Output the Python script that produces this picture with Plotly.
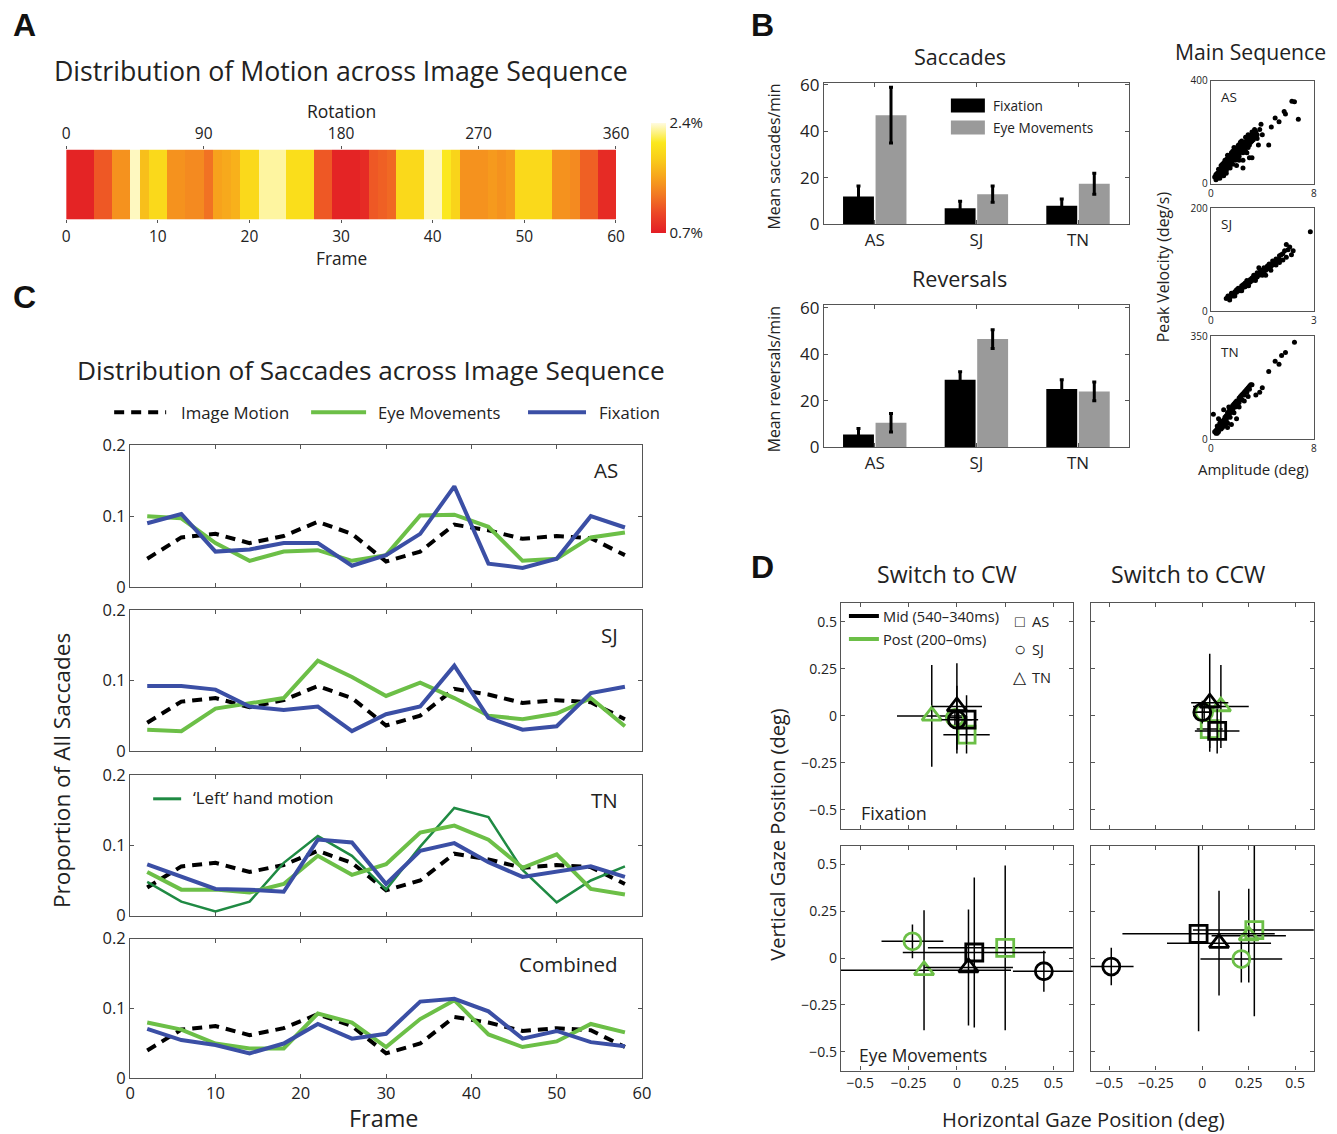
import plotly.graph_objects as go

FONT = "Open Sans"
# measured relation between page pixels and photographed pixels: img = OFF + K * page
SXK, SXO = 0.987, 3.8
SYK, SYO = 0.981, 12.3
FW, FH = 1351, 1144        # figure size in page pixels (body margin removed)

# ---------------- Panel A: motion distribution ----------------
frames = list(range(60))
motion_pct = [0.75, 0.75, 0.75, 1.1, 1.1, 1.45, 1.45, 2.35, 1.75, 1.95,
              1.95, 1.45, 1.45, 1.4, 1.4, 1.25, 1.55, 1.6, 1.65, 1.95,
              1.95, 2.3, 2.3, 2.3, 2.0, 2.0, 2.0, 1.1, 1.1, 0.75,
              0.75, 0.75, 0.8, 1.1, 1.15, 1.2, 1.95, 1.95, 1.95, 2.35,
              2.35, 2.1, 1.9, 1.45, 1.45, 1.45, 1.5, 1.45, 1.5, 1.95,
              1.95, 1.95, 1.95, 1.45, 1.45, 1.4, 1.15, 1.15, 0.8, 0.8]
frame_ticks = [0, 10, 20, 30, 40, 50, 60]
rotation_ticks = [0, 90, 180, 270, 360]

# ---------------- Panel B: bars ----------------
subjects = ["AS", "SJ", "TN"]
sacc_fix = [12, 7, 8]
sacc_fix_err = [4.5, 3, 3]
sacc_eye = [47, 13, 17.5]
sacc_eye_err = [12, 3.5, 4.5]
rev_fix = [5.5, 29, 25]
rev_fix_err = [2.5, 3.5, 4]
rev_eye = [10.5, 46.5, 24]
rev_eye_err = [4, 4, 4]
bar_ticks = [0, 20, 40, 60]

# ---------------- Panel B: main sequence ----------------
ms_as_amp = [0.3, 0.4, 0.5, 0.5, 0.6, 0.7, 0.7, 0.8, 0.9, 1.0, 1.0, 1.1, 1.2, 1.2, 1.3, 1.4, 1.5, 1.5,
             1.6, 1.7, 1.8, 1.8, 1.9, 2.0, 2.0, 2.1, 2.2, 2.3, 2.4, 2.5, 2.5, 2.6, 2.7, 2.8, 2.9, 3.0,
             3.1, 3.2, 3.3, 3.5, 3.6, 3.8, 4.0, 1.0, 1.5, 2.0, 2.5, 3.0, 0.8, 1.3, 1.8, 2.3, 2.8, 3.4,
             3.7, 4.5, 4.7, 5.0, 5.3, 5.7, 5.8, 6.3, 6.5, 6.8, 3.9, 1.2, 2.2, 0.6, 1.6, 2.1, 2.6, 1.1,
             1.4, 1.9, 2.4, 2.9, 3.3, 0.9, 1.7, 2.7, 3.2, 0.4, 1.25, 2.15,
             0.5, 0.6, 0.8, 0.9, 1.0, 1.1, 1.3, 1.4, 1.6, 1.7, 1.9, 2.0, 2.2, 2.3, 2.4, 2.6, 2.7, 2.9,
             3.0, 3.1, 3.3, 3.4, 3.6, 1.5, 1.8, 2.1, 2.5, 2.8, 3.2, 3.5, 0.7, 1.2, 1.7, 2.2, 2.7, 3.0,
             0.4, 0.9, 1.4, 1.9, 2.5, 3.2]
ms_as_vel = [25, 15, 40, 20, 35, 50, 30, 45, 60, 55, 80, 65, 75, 50, 90, 70, 95, 110,
             85, 100, 120, 95, 110, 130, 100, 125, 115, 140, 130, 150, 120, 160, 140, 170, 150, 180,
             160, 190, 170, 200, 175, 210, 190, 30, 60, 70, 90, 100, 70, 110, 140, 160, 120, 210,
             150, 150, 220, 255, 240, 280, 270, 320, 318, 250, 230, 40, 90, 55, 120, 145, 135, 90,
             100, 135, 165, 190, 185, 75, 125, 180, 200, 35, 95, 150,
             30, 25, 40, 50, 45, 60, 70, 85, 80, 105, 95, 115, 105, 125, 145, 135, 155, 140,
             160, 170, 185, 180, 190, 80, 105, 110, 135, 145, 165, 180, 20, 55, 75, 130, 125, 150,
             30, 35, 65, 90, 60, 100]
ms_sj_amp = [0.45, 0.5, 0.55, 0.6, 0.65, 0.7, 0.75, 0.8, 0.85, 0.9, 0.95, 1.0, 1.0, 1.05, 1.1, 1.15,
             1.2, 1.25, 1.3, 1.35, 1.4, 1.45, 1.5, 1.55, 1.6, 1.65, 1.7, 1.75, 1.8, 1.85, 1.9, 1.95,
             2.0, 2.05, 2.1, 2.15, 2.2, 2.25, 2.3, 2.2, 2.35, 2.0, 1.6, 1.3, 0.9, 2.9, 2.1, 1.75,
             1.4, 2.4, 0.7, 1.1, 1.5, 1.9,
             0.5, 0.6, 0.7, 0.8, 0.9, 1.0, 1.1, 1.2, 1.3, 1.4, 1.5, 1.6, 1.7, 1.8, 1.9, 2.0,
             0.55, 0.65, 0.75, 0.85, 0.95, 1.05, 1.15, 1.25, 1.35, 1.45, 1.55, 1.65, 1.75, 1.85]
ms_sj_vel = [25, 30, 22, 35, 30, 38, 42, 45, 40, 50, 52, 55, 48, 60, 58, 62,
             65, 70, 68, 75, 72, 80, 78, 85, 82, 88, 92, 90, 98, 95, 102, 100,
             108, 110, 112, 118, 130, 120, 125, 105, 110, 95, 70, 60, 40, 155, 100, 80,
             85, 118, 30, 50, 70, 90,
             28, 30, 35, 40, 45, 52, 55, 60, 65, 70, 75, 80, 85, 90, 95, 100,
             27, 33, 37, 44, 47, 53, 57, 63, 67, 73, 77, 83, 87, 92]
ms_tn_amp = [0.3, 0.4, 0.5, 0.5, 0.6, 0.7, 0.7, 0.8, 0.9, 1.0, 1.0, 1.1, 1.2, 1.2, 1.3, 1.4, 1.5, 1.5,
             1.6, 1.7, 1.8, 1.9, 2.0, 2.1, 2.2, 2.3, 2.4, 2.5, 2.6, 2.7, 2.8, 2.9, 3.0, 3.1, 3.2, 1.8,
             2.0, 1.6, 2.6, 2.9, 3.5, 3.8, 4.0, 4.5, 5.0, 5.3, 5.5, 5.8, 6.5, 0.2, 1.0, 1.4, 2.2, 0.6,
             1.3, 0.8, 1.1, 1.7, 2.4, 0.5, 0.9,
             0.4, 0.5, 0.6, 0.7, 0.8, 0.9, 1.0, 1.1, 1.2, 1.3, 1.4, 1.5, 1.6, 1.7, 1.8, 1.9, 2.0, 2.2,
             2.4, 2.6, 2.8, 3.0, 0.5, 0.6, 0.7, 0.9, 1.1, 1.3]
ms_tn_vel = [25, 20, 30, 45, 35, 40, 55, 50, 60, 65, 45, 75, 80, 60, 90, 85, 100, 75,
             105, 115, 110, 125, 130, 120, 140, 145, 150, 155, 160, 165, 170, 175, 180, 185, 185, 90,
             70, 50, 130, 145, 150, 160, 175, 230, 265, 255, 285, 295, 330, 85, 100, 110, 110, 70,
             40, 35, 55, 95, 135, 20, 45,
             30, 25, 45, 35, 60, 50, 55, 65, 70, 75, 95, 90, 95, 100, 120, 110, 115, 125,
             135, 150, 160, 170, 35, 25, 45, 40, 50, 55]

# ---------------- Panel C: saccade distribution ----------------
c_frames = [2, 6, 10, 14, 18, 22, 26, 30, 34, 38, 42, 46, 50, 54, 58]
image_motion = [0.04, 0.07, 0.075, 0.062, 0.072, 0.092, 0.075, 0.036, 0.05, 0.088, 0.08, 0.068, 0.072, 0.069, 0.045]
as_eye = [0.1, 0.097, 0.062, 0.037, 0.05, 0.052, 0.037, 0.045, 0.101, 0.102, 0.085, 0.037, 0.04, 0.07, 0.077]
as_fix = [0.09, 0.103, 0.05, 0.053, 0.062, 0.062, 0.03, 0.045, 0.075, 0.142, 0.033, 0.027, 0.04, 0.1, 0.084]
sj_eye = [0.03, 0.028, 0.06, 0.068, 0.075, 0.128, 0.105, 0.078, 0.097, 0.075, 0.05, 0.045, 0.053, 0.075, 0.035]
sj_fix = [0.092, 0.092, 0.087, 0.063, 0.058, 0.063, 0.028, 0.052, 0.063, 0.121, 0.047, 0.03, 0.035, 0.082, 0.091]
tn_eye = [0.062, 0.037, 0.037, 0.033, 0.045, 0.085, 0.058, 0.073, 0.118, 0.128, 0.108, 0.068, 0.087, 0.038, 0.03]
tn_fix = [0.073, 0.055, 0.038, 0.037, 0.034, 0.108, 0.104, 0.045, 0.092, 0.103, 0.076, 0.055, 0.063, 0.07, 0.055]
tn_left = [0.048, 0.02, 0.006, 0.02, 0.075, 0.113, 0.085, 0.037, 0.098, 0.153, 0.14, 0.065, 0.019, 0.05, 0.07]
comb_eye = [0.08, 0.07, 0.05, 0.043, 0.043, 0.093, 0.08, 0.045, 0.085, 0.112, 0.063, 0.045, 0.053, 0.078, 0.066]
comb_fix = [0.071, 0.055, 0.048, 0.036, 0.05, 0.078, 0.057, 0.064, 0.11, 0.114, 0.096, 0.057, 0.068, 0.052, 0.046]
prop_ticks = [0, 0.1, 0.2]

# ---------------- Panel D: gaze positions (AS, SJ, TN) ----------------
fix_cw_mid_x = [0.05, 0.0, 0.0];   fix_cw_mid_y = [-0.02, -0.02, 0.05]
fix_cw_mid_xe = [0.06, 0.08, 0.13]; fix_cw_mid_ye = [0.13, 0.18, 0.23]
fix_cw_post_x = [0.05, -0.01, -0.13]; fix_cw_post_y = [-0.1, -0.01, 0.0]
fix_cw_post_xe = [0.12, 0.05, 0.18]; fix_cw_post_ye = [0.1, 0.05, 0.27]
fix_ccw_mid_x = [0.08, 0.0, 0.04];  fix_ccw_mid_y = [-0.08, 0.02, 0.07]
fix_ccw_mid_xe = [0.12, 0.05, 0.1]; fix_ccw_mid_ye = [0.12, 0.06, 0.26]
fix_ccw_post_x = [0.04, 0.01, 0.1]; fix_ccw_post_y = [-0.07, 0.02, 0.05]
fix_ccw_post_xe = [0.07, 0.05, 0.15]; fix_ccw_post_ye = [0.1, 0.05, 0.22]
eye_cw_mid_x = [0.09, 0.45, 0.06]; eye_cw_mid_y = [0.03, -0.07, -0.05]
eye_cw_mid_xe = [0.37, 0.16, 0.23]; eye_cw_mid_ye = [0.4, 0.11, 0.31]
eye_cw_post_x = [0.25, -0.23, -0.17]; eye_cw_post_y = [0.055, 0.09, -0.065]
eye_cw_post_xe = [0.4, 0.16, 0.45]; eye_cw_post_ye = [0.44, 0.09, 0.32]
eye_ccw_mid_x = [-0.02, -0.49, 0.09]; eye_ccw_mid_y = [0.13, -0.045, 0.08]
eye_ccw_mid_xe = [0.41, 0.12, 0.28]; eye_ccw_mid_ye = [0.52, 0.1, 0.28]
eye_ccw_post_x = [0.28, 0.21, 0.25]; eye_ccw_post_y = [0.15, -0.005, 0.12]
eye_ccw_post_xe = [0.33, 0.22, 0.2]; eye_ccw_post_ye = [0.46, 0.125, 0.25]
gaze_ticks = [-0.5, -0.25, 0, 0.25, 0.5]
gaze_labels = ["\u22120.5", "\u22120.25", "0", "0.25", "0.5"]
subject_symbols = ["square-open", "circle-open", "triangle-up-open"]

GREEN = "#6cbf47"
BLUE = "#3b4fa5"
DKGREEN = "#1f8a43"
GRAY = "#9a9a9a"
AXC = "#555555"
TXT = "#222222"


def PX(x):
    return ((x - SXO) / SXK) / FW


def PY(y):
    return 1 - ((y - SYO) / SYK) / FH


layout = dict(width=FW, height=FH, margin=dict(l=0, r=0, t=0, b=0),
              paper_bgcolor="white", plot_bgcolor="white", showlegend=False,
              font=dict(family=FONT, color=TXT), barmode="group", bargap=0.36, bargroupgap=0.05,
              annotations=[], shapes=[])


def aid(n):
    return ("x" if n == 1 else f"x{n}"), ("y" if n == 1 else f"y{n}")


def box_axes(n, x0, x1, ytop, ybot, xr, yr, xt=None, xtt=None, yt=None, ytt=None,
             fs=14, xlabels=True, ylabels=True, ticks="inside", ticklen=4, xtype=None, line=True):
    xid, yid = aid(n)
    common = dict(showline=line, mirror="ticks" if line else False, linecolor=AXC, linewidth=1.2,
                  ticks=ticks, ticklen=ticklen, tickcolor=AXC, showgrid=False, zeroline=False,
                  tickfont=dict(size=fs, color=TXT, family=FONT), fixedrange=True)
    xa = dict(common, domain=[PX(x0), PX(x1)], range=xr, anchor=yid, showticklabels=xlabels)
    if xtype:
        xa["type"] = xtype
    if xt is not None:
        xa.update(tickmode="array", tickvals=xt, ticktext=xtt if xtt else [str(v) for v in xt])
    ya = dict(common, domain=[PY(ybot), PY(ytop)], range=yr, anchor=xid, showticklabels=ylabels)
    if yt is not None:
        ya.update(tickmode="array", tickvals=yt, ticktext=ytt if ytt else [str(v) for v in yt])
    layout["xaxis" if n == 1 else f"xaxis{n}"] = xa
    layout["yaxis" if n == 1 else f"yaxis{n}"] = ya
    return xid, yid


def ann(text, x, y, size, xanchor="center", angle=0, bold=False, family=None, color=TXT):
    layout["annotations"].append(dict(
        text=f"<b>{text}</b>" if bold else text, x=PX(x), y=PY(y), xref="paper", yref="paper",
        xanchor=xanchor, yanchor="middle", showarrow=False, textangle=angle,
        font=dict(size=size, family=family or FONT, color=color)))


def hline(x0, x1, y, color, width, dash=None):
    ln = dict(color=color, width=width)
    if dash:
        ln["dash"] = dash
    layout["shapes"].append(dict(type="line", xref="paper", yref="paper", x0=PX(x0), x1=PX(x1),
                                 y0=PY(y), y1=PY(y), line=ln))


def rect(x0, x1, ytop, ybot, color):
    layout["shapes"].append(dict(type="rect", xref="paper", yref="paper", x0=PX(x0), x1=PX(x1),
                                 y0=PY(ybot), y1=PY(ytop), line=dict(width=0), fillcolor=color))


traces = []
LETTER = dict(bold=True, family="Liberation Sans", color="#111")

# ===== Panel A =====
box_axes(1, 65, 615, 150, 220, [0, 60], [-0.5, 0.5], xt=frame_ticks, fs=15.5,
         ylabels=False, ticks="outside", ticklen=3, line=False)
layout["yaxis"]["ticks"] = ""
layout["xaxis16"] = dict(overlaying="x", side="top", anchor="y", range=[0, 360], tickmode="array",
                         tickvals=rotation_ticks, ticks="outside", ticklen=3, tickcolor=AXC,
                         showgrid=False, zeroline=False, showline=False, fixedrange=True,
                         tickfont=dict(size=15.5, color=TXT, family=FONT))
heat_scale = [[0.0, "#e31d25"], [0.18, "#ec4726"], [0.35, "#f27a22"], [0.5, "#f7a21c"],
              [0.68, "#f9cf1a"], [0.82, "#fbe81c"], [1.0, "#fffbe0"]]
traces.append(go.Heatmap(z=[motion_pct], x=[f + 0.5 for f in frames], y=[0], xaxis="x", yaxis="y",
                         colorscale=heat_scale, zmin=0.7, zmax=2.4, hoverinfo="skip",
                         colorbar=dict(x=PX(650), xanchor="left", y=PY(178), yanchor="middle",
                                       len=110, lenmode="pixels", thickness=15, outlinewidth=0,
                                       tickmode="array", tickvals=[0.7, 2.4], ticktext=["0.7%", "2.4%"],
                                       ticks="", tickfont=dict(size=15, family=FONT, color=TXT),
                                       xpad=0, ypad=0)))
traces.append(go.Scatter(x=[rotation_ticks[0], rotation_ticks[-1]], y=[0, 0], xaxis="x16", yaxis="y",
                         mode="markers", marker=dict(opacity=0), hoverinfo="skip"))
ann("A", 23, 25, 32, **LETTER)
ann("Distribution of Motion across Image Sequence", 340, 71, 26.7)
ann("Rotation", 340, 111, 17.5)
ann("Frame", 340, 259, 17.3)

# ===== Panel B bars =====
ann("B", 762, 25, 32, **LETTER)
for n, top, bot, fv, fe, ev, ee, title, ty, ylab, yl in [
        (3, 83, 225, sacc_fix, sacc_fix_err, sacc_eye, sacc_eye_err, "Saccades", 57, "Mean saccades/min", 157),
        (4, 306, 448, rev_fix, rev_fix_err, rev_eye, rev_eye_err, "Reversals", 279, "Mean reversals/min", 380)]:
    xid, yid = box_axes(n, 823, 1128, top, bot, [-0.5, 2.5], [0, 61], yt=bar_ticks, fs=17,
                        xtype="category")
    traces.append(go.Bar(x=subjects, y=fv, xaxis=xid, yaxis=yid, marker=dict(color="black", line=dict(width=0)),
                         error_y=dict(type="data", array=fe, color="black", thickness=3, width=2),
                         offsetgroup="fix", hoverinfo="skip"))
    traces.append(go.Bar(x=subjects, y=ev, xaxis=xid, yaxis=yid, marker=dict(color=GRAY, line=dict(width=0)),
                         error_y=dict(type="data", array=ee, color="black", thickness=3, width=2),
                         offsetgroup="eye", hoverinfo="skip"))
    ann(title, 959, ty, 21.6)
    ann(ylab, 773, yl, 15.8, angle=-90)
rect(950, 984, 99, 113, "black")
rect(950, 984, 121, 135, GRAY)
ann("Fixation", 990, 106, 13.6, xanchor="left")
ann("Eye Movements", 990, 128, 13.6, xanchor="left")

# ===== Main sequence =====
ann("Main Sequence", 1250, 52, 21.2)
for n, top, bot, amp, vel, xmax, ymax, lab in [
        (5, 81, 184, ms_as_amp, ms_as_vel, 8, 400, "AS"),
        (6, 209, 312, ms_sj_amp, ms_sj_vel, 3, 200, "SJ"),
        (7, 337, 440, ms_tn_amp, ms_tn_vel, 8, 350, "TN")]:
    xid, yid = box_axes(n, 1210, 1313, top, bot, [0, xmax], [0, ymax], xt=[0, xmax], yt=[0, ymax],
                        fs=10, ticks="")
    traces.append(go.Scatter(x=amp, y=vel, xaxis=xid, yaxis=yid, mode="markers",
                             marker=dict(size=5, color="black"), hoverinfo="skip"))
    ann(lab, 1218, top + 16, 13.5, xanchor="left")
ann("Peak Velocity (deg/s)", 1163, 267, 15.8, angle=-90)
ann("Amplitude (deg)", 1253, 470, 15)

# ===== Panel C =====
ann("C", 23, 298, 32, **LETTER)
ann("Distribution of Saccades across Image Sequence", 370, 371, 26.2)
hline(113, 165, 413, "black", 4, dash="10px,7px")
ann("Image Motion", 178, 413, 16.8, xanchor="left")
hline(310, 365, 413, GREEN, 4)
ann("Eye Movements", 375, 413, 16.6, xanchor="left")
hline(527, 585, 413, BLUE, 4)
ann("Fixation", 596, 413, 16.6, xanchor="left")
c_panels = [
    (8, 446, 588, as_eye, as_fix, None, "AS"),
    (9, 611, 752, sj_eye, sj_fix, None, "SJ"),
    (10, 776, 917, tn_eye, tn_fix, tn_left, "TN"),
    (11, 940, 1080, comb_eye, comb_fix, None, "Combined"),
]
for n, top, bot, eye, fix, left, lab in c_panels:
    xid, yid = box_axes(n, 129, 641, top, bot, [0, 60], [0, 0.2], xt=frame_ticks, yt=prop_ticks,
                        fs=16.5, xlabels=(n == 11))
    traces.append(go.Scatter(x=c_frames, y=image_motion, xaxis=xid, yaxis=yid, mode="lines",
                             line=dict(color="black", width=4, dash="10px,7px"), hoverinfo="skip"))
    if left is not None:
        traces.append(go.Scatter(x=c_frames, y=left, xaxis=xid, yaxis=yid, mode="lines",
                                 line=dict(color=DKGREEN, width=2.5), hoverinfo="skip"))
    traces.append(go.Scatter(x=c_frames, y=eye, xaxis=xid, yaxis=yid, mode="lines",
                             line=dict(color=GREEN, width=4), hoverinfo="skip"))
    traces.append(go.Scatter(x=c_frames, y=fix, xaxis=xid, yaxis=yid, mode="lines",
                             line=dict(color=BLUE, width=4), hoverinfo="skip"))
    ann(lab, 619, top + 25, 20.5, xanchor="right")
hline(152, 180, 800, DKGREEN, 3)
ann("\u2018Left\u2019 hand motion", 190, 799, 16.8, xanchor="left")
ann("Proportion of All Saccades", 61, 772, 22.6, angle=-90)
ann("Frame", 382, 1120, 23.4)

# ===== Panel D =====
ann("D", 762, 568, 32, **LETTER)
ann("Switch to CW", 946, 575, 23.1)
ann("Switch to CCW", 1187, 575, 23.1)
d_panels = [
    (12, 840, 1072, 604, 830, (fix_cw_mid_x, fix_cw_mid_y, fix_cw_mid_xe, fix_cw_mid_ye),
     (fix_cw_post_x, fix_cw_post_y, fix_cw_post_xe, fix_cw_post_ye), False, True),
    (13, 1090, 1313, 604, 830, (fix_ccw_mid_x, fix_ccw_mid_y, fix_ccw_mid_xe, fix_ccw_mid_ye),
     (fix_ccw_post_x, fix_ccw_post_y, fix_ccw_post_xe, fix_ccw_post_ye), False, False),
    (14, 840, 1072, 847, 1072, (eye_cw_mid_x, eye_cw_mid_y, eye_cw_mid_xe, eye_cw_mid_ye),
     (eye_cw_post_x, eye_cw_post_y, eye_cw_post_xe, eye_cw_post_ye), True, True),
    (15, 1090, 1313, 847, 1072, (eye_ccw_mid_x, eye_ccw_mid_y, eye_ccw_mid_xe, eye_ccw_mid_ye),
     (eye_ccw_post_x, eye_ccw_post_y, eye_ccw_post_xe, eye_ccw_post_ye), True, False),
]
for n, x0, x1, top, bot, mid, post, xl, yl in d_panels:
    xid, yid = box_axes(n, x0, x1, top, bot, [-0.6, 0.6], [-0.6, 0.6], xt=gaze_ticks, xtt=gaze_labels,
                        yt=gaze_ticks, ytt=gaze_labels, fs=14, xlabels=xl, ylabels=yl)
    for (px, py, pxe, pye), col in [(post, GREEN), (mid, "black")]:
        traces.append(go.Scatter(
            x=px, y=py, xaxis=xid, yaxis=yid, mode="markers", hoverinfo="skip",
            marker=dict(symbol=subject_symbols, size=17, color=col, line=dict(color=col, width=2.8)),
            error_x=dict(type="data", array=pxe, color="black", thickness=1.5, width=0),
            error_y=dict(type="data", array=pye, color="black", thickness=1.5, width=0)))
hline(848, 878, 617, "black", 4)
ann("Mid (540\u2013340ms)", 880, 617, 14.6, xanchor="left")
hline(848, 878, 640, GREEN, 4)
ann("Post (200\u20130ms)", 880, 640, 14.6, xanchor="left")
ann("\u25a1", 1019, 622, 16)
ann("AS", 1029, 622, 14.6, xanchor="left")
ann("\u25cb", 1019, 650, 20)
ann("SJ", 1029, 650, 14.6, xanchor="left")
ann("\u25b3", 1019, 678, 17)
ann("TN", 1029, 678, 14.6, xanchor="left")
ann("Fixation", 858, 814, 17.9, xanchor="left")
ann("Eye Movements", 856, 1056, 17.4, xanchor="left")
ann("Vertical Gaze Position (deg)", 777, 836, 20, angle=-90)
ann("Horizontal Gaze Position (deg)", 1083, 1121, 20.2)

fig = go.Figure(data=traces, layout=layout)
fig.write_html("out.html", config={"displayModeBar": False},
               post_script="document.body.style.margin='0px';document.body.style.overflow='hidden';")
